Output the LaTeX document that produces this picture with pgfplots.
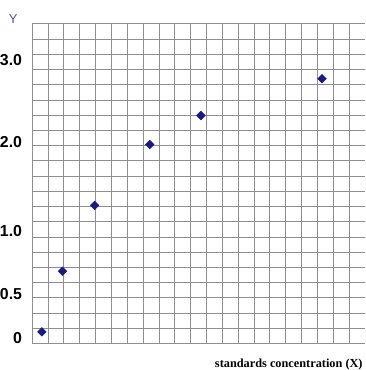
\documentclass[border=0pt]{standalone}
\usepackage{pgfplots}
\pgfplotsset{compat=1.18}
\usepackage{fontspec}
\setmainfont{Liberation Serif}
\newfontfamily\sansf{Liberation Sans}
\definecolor{gridc}{HTML}{8F8F8F}
\definecolor{markc}{RGB}{25,25,135}
\definecolor{ycol}{RGB}{80,80,160}
\begin{document}
\begin{tikzpicture}
\begin{axis}[
  at={(0,0)}, anchor=south west,
  scale only axis,
  width=334bp, height=321bp,
  xmin=0, xmax=21, ymin=0, ymax=21,
  axis line style={draw=none},
  xtick={0,...,20},
  xticklabels={},
  xmajorgrids=true,
  major grid style={draw=gridc, line width=0.8bp},
  minor ytick={0,...,21},
  yminorgrids=true,
  minor grid style={draw=gridc, line width=0.8bp},
  ytick={0.33,3.22,7.41,13.23,18.64},
  yticklabels={0,0.5,1.0,2.0,3.0},
  ymajorgrids=false,
  major tick length=0pt, minor tick length=0pt,
  yticklabel style={font=\sansf\bfseries\fontsize{16}{17}\selectfont, inner sep=0pt, xshift=-10bp},
  clip=false,
]
\addplot[only marks, mark=square*, mark size=3.1bp, mark options={rotate=45, fill=markc, draw=markc}, color=markc]
coordinates {
(0.61,0.77)
(1.91,4.75)
(3.94,9.07)
(7.42,13.08)
(10.65,14.98)
(18.30,17.40)
};
\node[font=\sansf\fontsize{13}{14}\selectfont, text=ycol, inner sep=0pt] at ([xshift=-19bp, yshift=5bp]axis description cs:0,1) {Y};
\node[font=\bfseries\fontsize{12.4}{13}\selectfont, anchor=east, inner sep=0pt] at ([xshift=-2bp, yshift=-21bp]axis description cs:1,0) {standards concentration (X)};
\end{axis}
\path[use as bounding box] (-32bp,-25bp) rectangle (334bp,345bp);
\end{tikzpicture}
\end{document}
